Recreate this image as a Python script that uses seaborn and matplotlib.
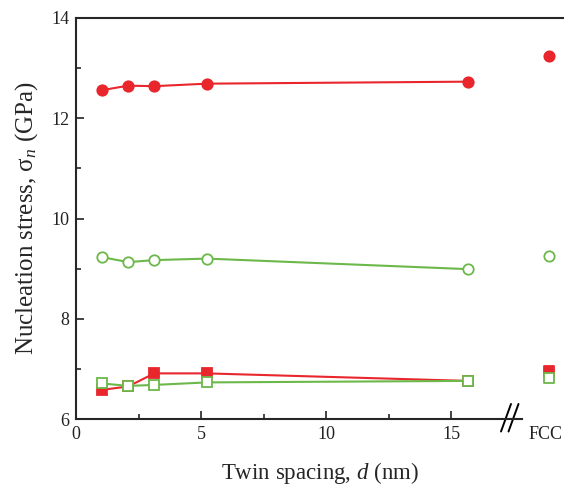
import matplotlib.pyplot as plt
import matplotlib.transforms as mtransforms
import seaborn as sns
import pandas as pd
import numpy as np

sns.set_style("ticks")
plt.rcParams['font.family'] = ['Liberation Serif', 'DejaVu Serif']
plt.rcParams['mathtext.fontset'] = 'custom'
plt.rcParams['mathtext.it'] = 'Liberation Serif:italic'
plt.rcParams['mathtext.rm'] = 'Liberation Serif'

# data
spacing = [1.03, 2.09, 3.13, 5.23, 15.67]
fcc_x = 18.92

red_circle = [12.56, 12.65, 12.64, 12.69, 12.73]
green_circle = [9.23, 9.13, 9.17, 9.20, 8.99]
red_square = [6.58, 6.65, 6.91, 6.91, 6.76]
green_square = [6.71, 6.66, 6.68, 6.73, 6.76]

fcc_red_circle = 13.25
fcc_green_circle = 9.25
fcc_red_square = 6.96
fcc_green_square = 6.81

red = '#e8262c'
green = '#6cb84a'

fig = plt.figure(figsize=(5.64, 4.87), dpi=100)
ax = fig.add_axes([76 / 564, 68 / 487, 1 - 76 / 564, 401 / 487])

series = [
    (red_circle, fcc_red_circle, 'o', red, True),
    (green_circle, fcc_green_circle, 'o', green, False),
    (red_square, fcc_red_square, 's', red, True),
    (green_square, fcc_green_square, 's', green, False),
]

for vals, fcc, mk, col, filled in series:
    df = pd.DataFrame({'d': spacing, 'sigma': vals})
    face = col if filled else 'white'
    sns.lineplot(data=df, x='d', y='sigma', ax=ax, color=col, lw=1.5,
                 marker=mk, markersize=7.5, markerfacecolor=face,
                 markeredgecolor=col, markeredgewidth=1.3)
    sns.scatterplot(x=[fcc_x], y=[fcc], ax=ax, marker=mk, s=55,
                    facecolor=face, edgecolor=col, linewidth=1.3, zorder=3)

ax.set_xlim(0, 19.52)
ax.set_ylim(6, 14)
ax.set_yticks([6, 8, 10, 12, 14])
ax.set_yticks([7, 9, 11, 13], minor=True)
ax.set_xticks([0, 5, 10, 15, fcc_x])
ax.set_xticklabels(['0', '5', '10', '15', 'FCC'])
ax.set_xticks([2.5, 7.5, 12.5], minor=True)
ax.get_xticklines()[-2].set_visible(False)
ax.get_xticklines()[-1].set_visible(False)

ax.tick_params(which='major', direction='in', length=6, width=1.2,
               labelsize=13, pad=5, colors='#222222')
ax.tick_params(which='minor', direction='in', length=3.5, width=1.2)

# nudge the FCC label so it stays inside the figure
fcc_lab = ax.get_xticklabels()[-1]
fcc_lab.set_transform(fcc_lab.get_transform() +
                      mtransforms.ScaledTranslation(-0.03, 0, fig.dpi_scale_trans))

ax.spines['right'].set_visible(False)
for s in ['left', 'top', 'bottom']:
    ax.spines[s].set_linewidth(1.5)
ax.spines['bottom'].set_bounds(0, 17.85)

# axis break marks
for xb in [17.2, 17.5]:
    ax.plot([xb - 0.2, xb + 0.2], [5.75, 6.3], color='black', lw=1.4,
            clip_on=False)

ax.set_xlabel(r'Twin spacing, $\mathit{d}$ (nm)', fontsize=16.5, labelpad=12)
ax.set_ylabel('Nucleation stress, σ$_{\\mathit{n}}$ (GPa)', fontsize=18,
              labelpad=8)

fig.savefig('out.png', dpi=100)
